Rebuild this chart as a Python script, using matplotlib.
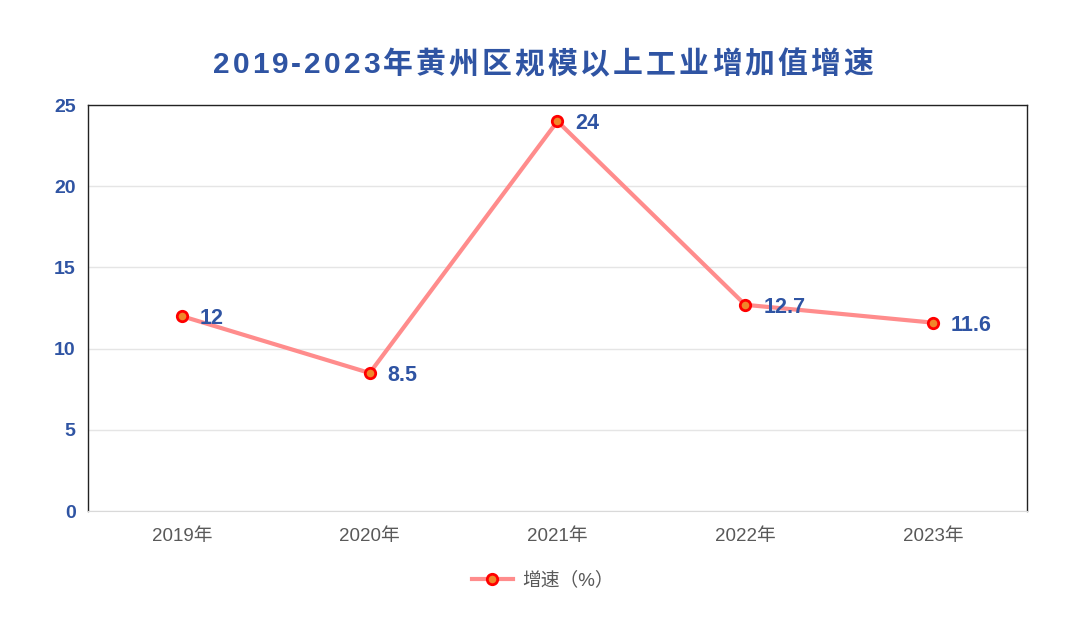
import matplotlib.pyplot as plt

plt.rcParams['font.family'] = ['Liberation Sans', 'Noto Sans CJK SC', 'DejaVu Sans']

years = ['2019年', '2020年', '2021年', '2022年', '2023年']
growth = [12, 8.5, 24, 12.7, 11.6]
labels = ['12', '8.5', '24', '12.7', '11.6']
yticks = [0, 5, 10, 15, 20, 25]
title = '2019-2023年黄州区规模以上工业增加值增速'

blue = '#2F54A3'
fig = plt.figure(figsize=(10.75, 6.24), dpi=100)
ax = fig.add_axes([0.0819, 0.181, 0.8733, 0.6507])

x = list(range(len(years)))
ax.plot(x, growth, color='#FF8C8C', lw=3, marker='o', ms=7.5,
        mfc='#F0862A', mec='#FF0000', mew=2, label='增速（%）', zorder=3)
for xi, yi, t in zip(x, growth, labels):
    ax.annotate(t, (xi, yi), xytext=(13, 0), textcoords='offset points',
                va='center_baseline', ha='left', fontsize=15.5, fontweight='bold', color=blue)

ax.set_xlim(-0.5, 4.5)
ax.set_ylim(0, 25)
ax.set_yticks(yticks)
ax.set_yticklabels([str(v) for v in yticks], fontsize=14, fontweight='bold', color=blue)
ax.set_xticks(x)
ax.set_xticklabels(years, fontsize=13.5, color='#595959')
ax.tick_params(length=0)
ax.tick_params(axis='y', pad=9)
ax.tick_params(axis='x', pad=12)
ax.grid(axis='y', color='#E5E5E5', lw=1)
ax.set_axisbelow(True)
for s in ['left', 'right', 'top']:
    ax.spines[s].set_color('#222222')
    ax.spines[s].set_linewidth(1)
ax.spines['bottom'].set_color('#D9D9D9')

# title with letter spacing: place each character separately
r = fig.canvas.get_renderer()
spacing = 3.0  # px between chars
parts = []
for ch in title:
    t = fig.text(0, 0, ch, fontsize=21.5, fontweight='bold', color=blue,
                 va='center_baseline', ha='left')
    parts.append((t, t.get_window_extent(r).width))
total = sum(w for _, w in parts) + spacing * (len(parts) - 1)
xpos = 543 - total / 2
for t, w in parts:
    t.set_position((xpos / 1075, 1 - 62 / 624))
    xpos += w + spacing

leg = fig.legend(loc='center', bbox_to_anchor=(0.505, 0.07), frameon=False,
                 fontsize=13.5, handlelength=2.2, handletextpad=0.5)
for t in leg.get_texts():
    t.set_color('#595959')

fig.savefig('out.png')
